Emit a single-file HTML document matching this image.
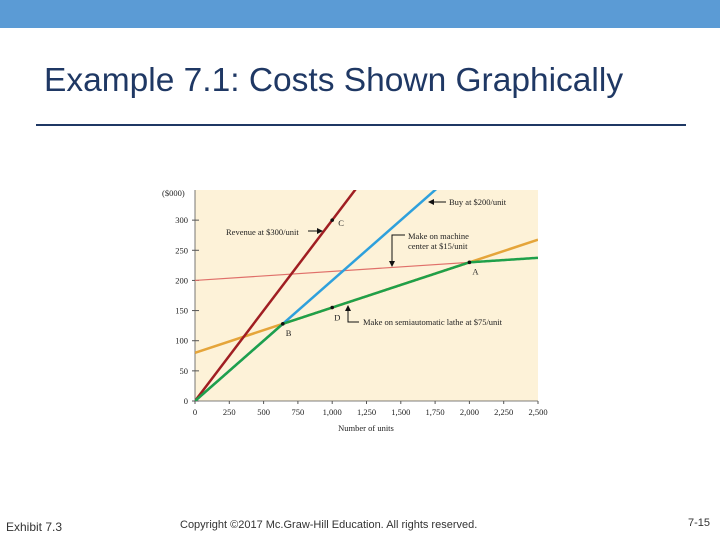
<!DOCTYPE html>
<html><head><meta charset="utf-8"><style>
body{margin:0;width:720px;height:540px;background:#fff;position:relative;overflow:hidden;font-family:"Liberation Sans",sans-serif}
.t{position:absolute;white-space:nowrap}
</style></head><body>
<div style="position:absolute;left:0;top:0;width:720px;height:28px;background:#5b9bd5"></div>
<div class="t" style="left:44px;top:62px;font-size:33.5px;color:#1f3864">Example 7.1: Costs Shown Graphically</div>
<div style="position:absolute;left:36px;top:124px;width:650px;height:2px;background:#1f3864"></div>
<svg id="chart" width="720" height="540" style="position:absolute;left:0;top:0" font-family="Liberation Serif, serif" font-size="8.5" fill="#222"></svg>
<div class="t" style="left:6px;top:520px;font-size:12px;color:#333">Exhibit 7.3</div>
<div class="t" style="left:180px;top:519px;font-size:11px;color:#333">Copyright ©2017 Mc.Graw-Hill Education. All rights reserved.</div>
<div class="t" style="left:688px;top:517px;font-size:11px;color:#333">7-15</div>
<script>
const xTicks=[0,250,500,750,1000,1250,1500,1750,2000,2250,2500];
const xTickLabels=["0","250","500","750","1,000","1,250","1,500","1,750","2,000","2,250","2,500"];
const yTicks=[0,50,100,150,200,250,300];
const revenuePerUnit=300, buyPerUnit=200;
const machineFixed=200, machineVar=15;
const latheFixed=80, latheVar=75;
const points=[{n:"A",x:2000,y:230},{n:"B",x:640,y:128},{n:"C",x:1000,y:300},{n:"D",x:1000,y:155}];
const X0=195,X1=538,Y0=401,Y1=190,XMAX=2500,YMAX=350;
const sx=v=>X0+v/XMAX*(X1-X0), sy=v=>Y0-v/YMAX*(Y0-Y1);
const svg=document.getElementById('chart'),NS="http://www.w3.org/2000/svg";
function mk(t,a,p){const e=document.createElementNS(NS,t);for(const k in a)e.setAttribute(k,a[k]);(p||svg).appendChild(e);return e;}
let bg=mk('rect',{x:X0,y:Y1,width:X1-X0,height:Y0-Y1,fill:'#fdf2d8'});

mk('line',{x1:X0,y1:Y1,x2:X0,y2:Y0,stroke:'#555','stroke-width':0.8});
mk('line',{x1:X0,y1:Y0,x2:X1,y2:Y0,stroke:'#555','stroke-width':0.8});
xTicks.forEach((v,i)=>{mk('line',{x1:sx(v),y1:Y0,x2:sx(v),y2:Y0+3,stroke:'#555'});
 let t=mk('text',{x:sx(v),y:Y0+14,'text-anchor':'middle'});t.textContent=xTickLabels[i];
 });
yTicks.forEach(v=>{mk('line',{x1:X0-3,y1:sy(v),x2:X0+4,y2:sy(v),stroke:'#555'});
 let t=mk('text',{x:X0-7,y:sy(v)+3,'text-anchor':'end'});t.textContent=v;
 });
let yl=mk('text',{x:162,y:196});yl.textContent="($000)";
let xl=mk('text',{x:366,y:431,'text-anchor':'middle'});xl.textContent="Number of units";
const cp=mk('clipPath',{id:'cp'});mk('rect',{x:X0,y:Y1,width:X1-X0,height:Y0-Y1},cp);
const g=mk('g',{'clip-path':'url(#cp)'});
function line(f,c,w,name){const xs=[0,XMAX];let d=xs.map((x,i)=>(i?'L':'M')+sx(x)+','+sy(f(x))).join('');
 let p=mk('path',{d,stroke:c,'stroke-width':w,fill:'none'},g);}
const machine=x=>machineFixed+machineVar*x/1000, lathe=x=>latheFixed+latheVar*x/1000, buy=x=>buyPerUnit*x/1000;
line(machine,'#e0706a',1.2,'machine-center-line');
line(lathe,'#e5a53a',2.5,'lathe-line');
line(buy,'#2ea0dc',2.5,'buy-line');
line(x=>revenuePerUnit*x/1000,'#a01e22',2.5,'revenue-line');
let env=[];for(let x=0;x<=XMAX;x+=10)env.push((env.length?'L':'M')+sx(x)+','+sy(Math.min(machine(x),lathe(x),buy(x))));
let ge=mk('path',{d:env.join(''),stroke:'#1fa04a','stroke-width':2.5,fill:'none'},g);

const off={A:[3,12],B:[3,12],C:[6,6],D:[2,13]};
points.forEach(p=>{let c=mk('circle',{cx:sx(p.x),cy:sy(p.y),r:1.8,fill:'#111'});
 let t=mk('text',{x:sx(p.x)+off[p.n][0],y:sy(p.y)+off[p.n][1]});t.textContent=p.n;});
function ann(txt,x,y,name){let t=mk('text',{x,y});t.textContent=txt;}
ann("Buy at $200/unit",449,205,'buy-annotation');
ann("Revenue at $300/unit",226,235,'revenue-annotation');
ann("Make on machine",408,239,'machine-annotation');ann("center at $15/unit",408,249,'machine-annotation-2');
ann("Make on semiautomatic lathe at $75/unit",363,325,'lathe-annotation');
mk('path',{d:'M446,202H430',stroke:'#111',fill:'none'});mk('path',{d:'M428,202l6,-3v6z',fill:'#111'});
mk('path',{d:'M308,231H320',stroke:'#111',fill:'none'});mk('path',{d:'M323,231l-6,-3v6z',fill:'#111'});
mk('path',{d:'M405,235H392V263',stroke:'#111',fill:'none'});mk('path',{d:'M392,267l-3,-6h6z',fill:'#111'});
mk('path',{d:'M359,322H348V309',stroke:'#111',fill:'none'});mk('path',{d:'M348,305l-3,6h6z',fill:'#111'});
</script>
</body></html>
